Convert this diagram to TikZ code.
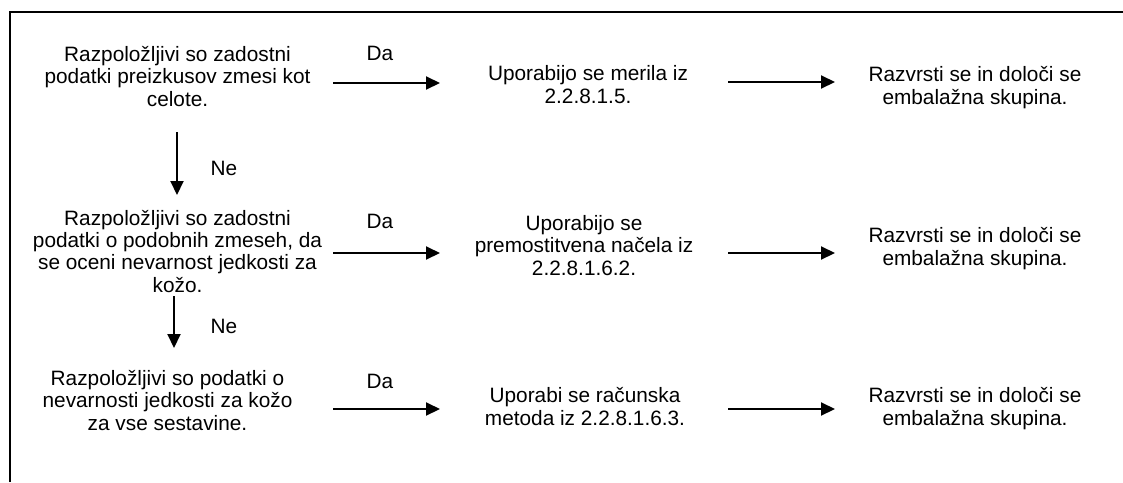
\documentclass[tikz,border=0pt]{standalone}
\usepackage{fontspec}
\setmainfont{Liberation Sans}
\usetikzlibrary{arrows.meta}
\tikzset{
  txt/.style={anchor=base, align=center, inner sep=0pt, font=\fontsize{20.8}{22.2}\selectfont},
  lbl/.style={anchor=base, inner sep=0pt, font=\fontsize{20.8}{22.2}\selectfont},
  arr/.style={line width=2pt, -{Triangle[length=14pt,width=13pt]}},
  frame/.style={line width=2pt}
}
\begin{document}
\begin{tikzpicture}[x=1pt,y=-1pt]
\useasboundingbox (0,0) rectangle (1123,482);
% open frame along the top and left
\draw[frame] (9.5,482) -- (9.5,11.5) -- (1123,11.5);

% left column: questions (positions give the baseline of the last line)
\node[txt] (q1) at (177.5,106) {Razpoložljivi so zadostni\\podatki preizkusov zmesi kot\\celote.};
\node[txt] (q2) at (177.5,292) {Razpoložljivi so zadostni\\podatki o podobnih zmeseh, da\\se oceni nevarnost jedkosti za\\kožo.};
\node[txt] (q3) at (167.5,430) {Razpoložljivi so podatki o\\nevarnosti jedkosti za kožo\\za vse sestavine.};

% middle column: methods
\node[txt] (m1) at (588,103) {Uporabijo se merila iz\\2.2.8.1.5.};
\node[txt] (m2) at (584,275) {Uporabijo se\\premostitvena načela iz\\2.2.8.1.6.2.};
\node[txt] (m3) at (585,425) {Uporabi se računska\\metoda iz 2.2.8.1.6.3.};

% right column: results
\node[txt] (r1) at (975,104) {Razvrsti se in določi se\\embalažna skupina.};
\node[txt] (r2) at (975,265) {Razvrsti se in določi se\\embalažna skupina.};
\node[txt] (r3) at (975,425) {Razvrsti se in določi se\\embalažna skupina.};

% arrow end points
\coordinate (a1s) at (333,83);  \coordinate (a1e) at (440,83);
\coordinate (b1s) at (728,82);  \coordinate (b1e) at (835,82);
\coordinate (a2s) at (333,253); \coordinate (a2e) at (440,253);
\coordinate (b2s) at (728,253); \coordinate (b2e) at (835,253);
\coordinate (a3s) at (333,409); \coordinate (a3e) at (440,409);
\coordinate (b3s) at (728,409); \coordinate (b3e) at (835,409);
\coordinate (v1s) at (177,132); \coordinate (v1e) at (177,195);
\coordinate (v2s) at (174,296); \coordinate (v2e) at (174,348);

\draw[arr] (a1s) -- (a1e);
\draw[arr] (b1s) -- (b1e);
\draw[arr] (a2s) -- (a2e);
\draw[arr] (b2s) -- (b2e);
\draw[arr] (a3s) -- (a3e);
\draw[arr] (b3s) -- (b3e);
\draw[arr] (v1s) -- (v1e);
\draw[arr] (v2s) -- (v2e);

% branch labels
\node[lbl] (da1) at (380,60) {Da};
\node[lbl] (da2) at (380,228) {Da};
\node[lbl] (da3) at (380,388) {Da};
\node[lbl] (ne1) at (224,175) {Ne};
\node[lbl] (ne2) at (224,333) {Ne};
\end{tikzpicture}
\end{document}
